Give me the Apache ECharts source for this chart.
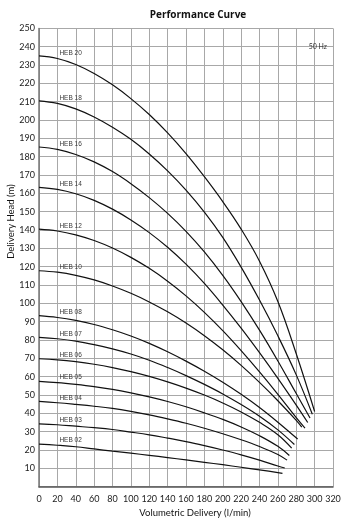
<!DOCTYPE html>
<html>
<head>
<meta charset="utf-8">
<title>Performance Curve</title>
<script src="https://cdn.jsdelivr.net/npm/echarts@6/dist/echarts.min.js"></script>
<style>
  html, body { margin: 0; padding: 0; background: #fff; }
  #chart { width: 350px; height: 522px; }
</style>
</head>
<body>
<div id="chart"></div>
<script>
// Flow steps (l/min) at which heads are tabulated
const flowSteps = [0, 20, 40, 60, 80, 100, 120, 140, 160, 180, 200, 220, 240, 260, 280];

// Delivery head (m) per pump model at each flow step
const heb02 = [23.2, 22.6, 21.8, 20.6, 19.4, 18.3, 17.1, 15.9, 14.6, 13.3, 12.0, 10.6, 9.2, 7.7];
const heb03 = [34.3, 33.8, 33.0, 32.2, 31.2, 29.8, 28.3, 26.5, 24.6, 22.4, 20.0, 17.4, 14.5, 11.3];
const heb04 = [46.5, 45.8, 44.9, 43.9, 42.7, 41.1, 39.2, 37.0, 34.6, 31.9, 28.9, 25.6, 21.9, 17.6];
const heb05 = [57.5, 56.8, 55.8, 54.6, 53.1, 51.2, 49.0, 46.5, 43.6, 40.3, 36.7, 32.6, 27.8, 22.0];
const heb06 = [69.8, 69.2, 68.2, 66.8, 65.0, 62.8, 60.2, 57.2, 53.8, 50.0, 45.7, 40.8, 35.1, 28.3];
const heb07 = [81.5, 80.7, 79.4, 77.5, 75.2, 72.4, 69.0, 65.0, 60.6, 55.8, 50.6, 44.8, 38.4, 31.0];
const heb08 = [93.3, 92.3, 90.7, 88.5, 85.6, 82.2, 78.2, 73.6, 68.5, 63.0, 57.0, 50.4, 43.2, 35.2];
const heb10 = [117.8, 117.0, 115.3, 112.8, 109.5, 105.5, 100.8, 95.4, 89.3, 82.4, 74.7, 66.2, 56.9, 46.9, 36.2];
const heb12 = [140.5, 139.5, 137.4, 134.3, 130.2, 125.1, 119.1, 112.1, 104.1, 95.1, 85.1, 74.2, 62.6, 50.4, 37.7];
const heb14 = [163.3, 162.2, 159.8, 156.2, 151.4, 145.5, 138.6, 130.6, 121.4, 110.9, 99.1, 86.5, 73.1, 59.1, 44.5];
const heb16 = [185.3, 184.0, 181.2, 177.2, 171.9, 165.3, 157.7, 149.1, 139.3, 128.1, 115.3, 101.0, 85.4, 68.6, 50.8];
const heb18 = [210.5, 209.1, 206.1, 201.7, 196.1, 189.5, 181.5, 172.3, 161.8, 149.8, 136.0, 119.8, 101.8, 82.3, 61.0];
const heb20 = [235.0, 233.6, 230.3, 225.4, 219.2, 211.7, 203.0, 193.0, 181.7, 169.1, 155.5, 140.5, 123.0, 101.0, 72.5];

// Model names, and the last operating point of each curve
const models  = ['HEB 02', 'HEB 03', 'HEB 04', 'HEB 05', 'HEB 06', 'HEB 07', 'HEB 08', 'HEB 10', 'HEB 12', 'HEB 14', 'HEB 16', 'HEB 18', 'HEB 20'];
const heads   = [heb02, heb03, heb04, heb05, heb06, heb07, heb08, heb10, heb12, heb14, heb16, heb18, heb20];
const endFlow = [265, 267.5, 270, 272.5, 275, 278, 281.5, 286, 289.5, 292.5, 295, 297.5, 300];
const endHead = [7.3, 10.2, 14.5, 17.0, 21.0, 23.0, 26.0, 32.5, 32.0, 35.0, 37.5, 39.5, 41.0];

// Axis ranges and tick steps
const flowMax = 320, flowStep = 20;
const headMax = 250, headStep = 10;

const labelFont = 'Lato, "Open Sans", sans-serif';

const series = models.map((name, i) => {
  const pts = heads[i].map((h, k) => [flowSteps[k], h]);
  pts.push([endFlow[i], endHead[i]]);
  const data = pts.map((p, k) => k === 1 ? {
    value: p,
    label: {
      show: true,
      formatter: name,
      position: 'top',
      distance: 0,
      align: 'left',
      offset: [2, -1],
      fontSize: 6.5,
      lineHeight: 7,
      color: '#3a3a3a',
      fontFamily: '"Liberation Sans", Arial, sans-serif'
    }
  } : { value: p });
  return {
    name: name,
    type: 'line',
    smooth: 0.4,
    showSymbol: true,
    showAllSymbol: true,
    symbol: 'circle',
    symbolSize: 1,
    itemStyle: { color: 'rgba(0,0,0,0)' },
    lineStyle: { color: '#111', width: 1.2 },
    emphasis: { disabled: true },
    silent: true,
    z: 3,
    data: data
  };
});

const chart = echarts.init(document.getElementById('chart'), null, { renderer: 'canvas' });
chart.setOption({
  animation: false,
  backgroundColor: '#fff',
  title: [
    {
      text: 'Performance Curve',
      left: 193,
      textAlign: 'center',
      top: 5,
      textStyle: { fontSize: 10, fontWeight: 'bold', color: '#111', fontFamily: '"Open Sans", sans-serif' }
    },
    {
      text: '50 Hz',
      right: 18,
      top: 38,
      textStyle: { fontSize: 7, fontWeight: 'normal', color: '#333', fontFamily: labelFont }
    }
  ],
  grid: { left: 39, right: 17, top: 28.4, bottom: 35.3, containLabel: false, outerBoundsMode: 'none' },
  xAxis: {
    type: 'value',
    min: 0,
    max: flowMax,
    interval: flowStep,
    name: 'Volumetric Delivery (l/min)',
    nameLocation: 'middle',
    nameGap: 21,
    nameMoveOverlap: false,
    nameTextStyle: { fontSize: 9.5, color: '#111', fontFamily: labelFont, padding: [0, 0, 0, 18] },
    axisLine: { show: true, lineStyle: { color: '#555', width: 1.5 } },
    axisTick: { show: false },
    axisLabel: { fontSize: 9, color: '#222', margin: 8, fontFamily: labelFont },
    splitLine: { show: true, lineStyle: { color: '#a8a8a8', width: 1 } }
  },
  yAxis: {
    type: 'value',
    min: 0,
    max: headMax,
    interval: headStep,
    name: 'Delivery Head (m)',
    nameLocation: 'middle',
    nameGap: 23,
    nameMoveOverlap: false,
    nameTextStyle: { fontSize: 9.5, color: '#111', fontFamily: labelFont, padding: [0, 0, 0, 72] },
    axisLine: { show: true, lineStyle: { color: '#777', width: 1.5 } },
    axisTick: { show: false },
    axisLabel: { fontSize: 9, color: '#222', margin: 4, showMinLabel: false, fontFamily: labelFont },
    splitLine: { show: true, lineStyle: { color: '#a8a8a8', width: 1 } }
  },
  series: series
});
</script>
</body>
</html>
